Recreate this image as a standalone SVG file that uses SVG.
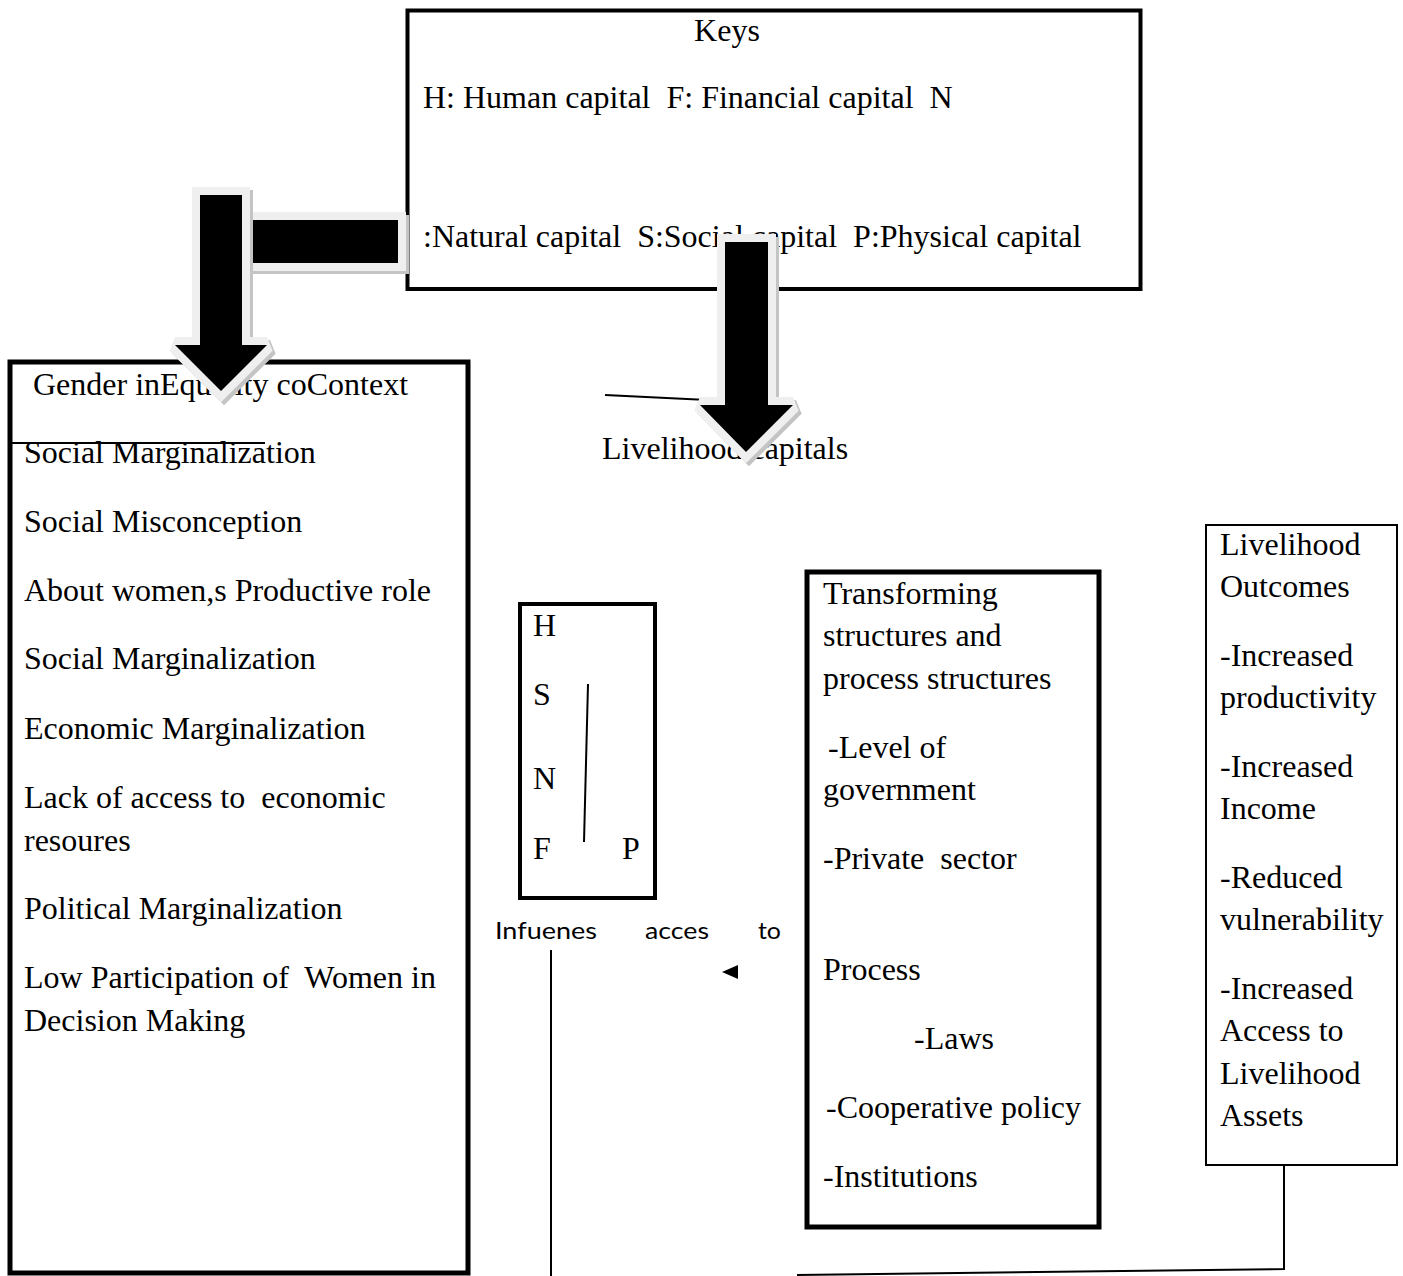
<svg xmlns="http://www.w3.org/2000/svg" width="1403" height="1276" viewBox="0 0 1403 1276" xml:space="preserve">
<defs>
<style>
text{white-space:pre}
.t{font-family:"Liberation Serif","Times New Roman",serif;font-size:32px;fill:#000}
.s{font-family:Lato,"Open Sans","Liberation Sans",sans-serif;font-size:24px;fill:#000}
.box{fill:#fff;stroke:#000}
.ln{stroke:#000;stroke-width:2;fill:none}
.rim{fill:#efefef;stroke:#efefef;stroke-width:16;stroke-linejoin:miter;stroke-miterlimit:1.5}
.shd{fill:#c4c4c4;stroke:#c4c4c4;stroke-width:16;stroke-linejoin:miter;stroke-miterlimit:1.5}
.blk{fill:#000}
</style>
</defs>
<rect width="1403" height="1276" fill="#fff"/>
<g id="keys">
<rect class="box" x="407.5" y="10.5" width="733" height="278.5" stroke-width="4"/>
<text class="t" x="727" y="41" text-anchor="middle">Keys</text>
<text class="t" x="423" y="108">H: Human capital  F: Financial capital  N</text>
<text class="t" x="423" y="247">:Natural capital  S:Social capital  P:Physical capital</text>
</g>
<g id="gender-context">
<rect class="box" x="10" y="362" width="458" height="911" stroke-width="5"/>
<text class="t" x="33" y="395">Gender inEquality coContext</text>
<text class="t" x="24" y="463">Social Marginalization</text>
<text class="t" x="24" y="532">Social Misconception</text>
<text class="t" x="24" y="601">About women,s Productive role</text>
<text class="t" x="24" y="669">Social Marginalization</text>
<text class="t" x="24" y="739">Economic Marginalization</text>
<text class="t" x="24" y="808">Lack of access to  economic</text>
<text class="t" x="24" y="851">resoures</text>
<text class="t" x="24" y="919">Political Marginalization</text>
<text class="t" x="24" y="988">Low Participation of  Women in</text>
<text class="t" x="24" y="1031">Decision Making</text>
</g>
<g id="livelihood-capitals-label">
<text class="t" x="602" y="459">Livelihood capitals</text>
</g>
<g id="capitals-box">
<rect class="box" x="520" y="604" width="135" height="294" stroke-width="4"/>
<text class="t" x="533" y="636">H</text>
<text class="t" x="533" y="705">S</text>
<text class="t" x="533" y="789">N</text>
<text class="t" x="533" y="859">F</text>
<text class="t" x="622" y="859">P</text>
</g>
<g id="influences-label">
<text class="s" x="495" y="939" textLength="102" lengthAdjust="spacingAndGlyphs">Infuenes</text>
<text class="s" x="645" y="939" textLength="64" lengthAdjust="spacingAndGlyphs">acces</text>
<text class="s" x="758" y="939" textLength="23" lengthAdjust="spacingAndGlyphs">to</text>
</g>
<g id="transforming">
<rect class="box" x="807" y="572" width="292" height="655" stroke-width="5"/>
<text class="t" x="823" y="604">Transforming</text>
<text class="t" x="823" y="646">structures and</text>
<text class="t" x="823" y="689">process structures</text>
<text class="t" x="828" y="758">-Level of</text>
<text class="t" x="823" y="800">government</text>
<text class="t" x="823" y="869">-Private  sector</text>
<text class="t" x="823" y="980">Process</text>
<text class="t" x="914" y="1049">-Laws</text>
<text class="t" x="826" y="1118">-Cooperative policy</text>
<text class="t" x="823" y="1187">-Institutions</text>
</g>
<g id="outcomes">
<rect class="box" x="1206" y="525" width="191" height="640" stroke-width="2"/>
<text class="t" x="1220" y="555">Livelihood</text>
<text class="t" x="1220" y="597">Outcomes</text>
<text class="t" x="1220" y="666">-Increased</text>
<text class="t" x="1220" y="708">productivity</text>
<text class="t" x="1220" y="777">-Increased</text>
<text class="t" x="1220" y="819">Income</text>
<text class="t" x="1220" y="888">-Reduced</text>
<text class="t" x="1220" y="930">vulnerability</text>
<text class="t" x="1220" y="999">-Increased</text>
<text class="t" x="1220" y="1041">Access to</text>
<text class="t" x="1220" y="1084">Livelihood</text>
<text class="t" x="1220" y="1126">Assets</text>
</g>
<g id="connectors">
<line class="ln" x1="10" y1="443" x2="265" y2="443"/>
<line class="ln" x1="605" y1="395" x2="728" y2="401"/>
<line class="ln" x1="588" y1="684" x2="584" y2="842"/>
<line class="ln" x1="551" y1="950" x2="551" y2="1276"/>
<polygon points="722,972 738,965 738,979" fill="#000"/>
<polyline class="ln" points="797,1275 1284,1269 1284,1164"/>
<g id="arrow-bar">
<rect class="shd" x="255" y="223" width="146" height="43"/>
<rect class="rim" x="252" y="220" width="146" height="43"/>
<rect class="blk" x="252" y="220" width="146" height="43"/>
</g>
<g id="arrow-left">
<polygon class="shd" points="203,198 245,198 245,348 270,348 224,394 178,348 203,348"/>
<polygon class="rim" points="200,195 242,195 242,345 267,345 221,391 175,345 200,345"/>
<polygon class="blk" points="200,195 242,195 242,345 267,345 221,391 175,345 200,345"/>
</g>
<g id="arrow-mid">
<polygon class="shd" points="728,245 771,245 771,408 796,408 749,455 703,408 728,408"/>
<polygon class="rim" points="725,242 768,242 768,405 793,405 746,452 700,405 725,405"/>
<polygon class="blk" points="725,242 768,242 768,405 793,405 746,452 700,405 725,405"/>
</g>
</g>
</svg>
